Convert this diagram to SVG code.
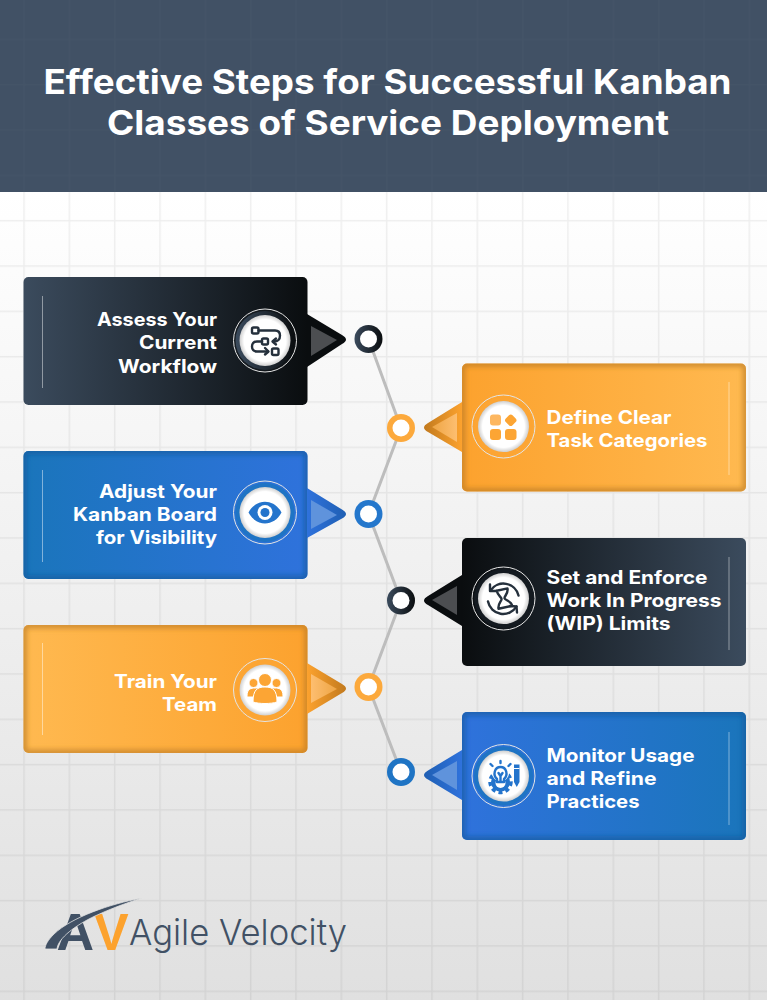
<svg xmlns="http://www.w3.org/2000/svg" width="767" height="1000" viewBox="0 0 767 1000">
<style>
.t{font-family:"Inter","Open Sans","Liberation Sans",sans-serif;font-weight:700;fill:#fff}
.title{font-size:34px}
.lab{font-size:18.5px}
.end{text-anchor:end}
.sep{fill:none;stroke-width:1;stroke:#fff;stroke-opacity:.45}
.edge{fill:none;stroke-width:7;filter:url(#blur)}
.halo{fill:none;stroke:#e4e4e4;stroke-width:1}
.disc{fill:url(#disc)}
.dot{fill:#fff}
.i-s{fill:none;stroke-width:2.4;stroke-linecap:round;stroke-linejoin:round}
.dk{stroke:#25303c}
.bl{stroke:#2474cc}.blf{fill:#2474cc}
.or{fill:#fca534}
</style>
<defs>
<linearGradient id="bg" x1="0" y1="0" x2="0" y2="1"><stop offset="0" stop-color="#fff"/><stop offset="1" stop-color="#e0e0e0"/></linearGradient>
<linearGradient id="dkL"><stop offset="0" stop-color="#3b4b5d"/><stop offset="1" stop-color="#0a0d0f"/></linearGradient>
<linearGradient id="dkR"><stop offset="0" stop-color="#0a0d0f"/><stop offset="1" stop-color="#3b4b5d"/></linearGradient>
<linearGradient id="blL"><stop offset="0" stop-color="#1a75bb"/><stop offset="1" stop-color="#2f72dc"/></linearGradient>
<linearGradient id="blR"><stop offset="0" stop-color="#2f72dc"/><stop offset="1" stop-color="#1a75bb"/></linearGradient>
<linearGradient id="orL"><stop offset="0" stop-color="#ffb950"/><stop offset="1" stop-color="#fca22e"/></linearGradient>
<linearGradient id="orR"><stop offset="0" stop-color="#fca22e"/><stop offset="1" stop-color="#ffb950"/></linearGradient>
<linearGradient id="tOrL"><stop offset="0" stop-color="#fca22e"/><stop offset="1" stop-color="#c27a1e"/></linearGradient>
<linearGradient id="tOrR"><stop offset="0" stop-color="#c27a1e"/><stop offset="1" stop-color="#fca22e"/></linearGradient>
<linearGradient id="tBlL"><stop offset="0" stop-color="#2f72dc"/><stop offset="1" stop-color="#1f5fb3"/></linearGradient>
<linearGradient id="tBlR"><stop offset="0" stop-color="#1f5fb3"/><stop offset="1" stop-color="#2f72dc"/></linearGradient>
<linearGradient id="iOrL"><stop offset="0" stop-color="#fdbe70"/><stop offset="1" stop-color="#eea544"/></linearGradient>
<linearGradient id="iOrR"><stop offset="0" stop-color="#eea544"/><stop offset="1" stop-color="#fdbe70"/></linearGradient>
<radialGradient id="disc"><stop offset="0" stop-color="#fff"/><stop offset=".82" stop-color="#fff"/><stop offset="1" stop-color="#cfcfcf"/></radialGradient>
<filter id="blur" x="-5%" y="-10%" width="110%" height="120%"><feGaussianBlur stdDeviation="2.5"/></filter>
<pattern id="grid" patternUnits="userSpaceOnUse" x="23.25" y="265.25" width="45.33" height="45.33"><path d="M.75 0V45.33M0 .75H45.33" fill="none" stroke="#000" stroke-opacity=".06" stroke-width="1.5"/></pattern>
<pattern id="gridH" patternUnits="userSpaceOnUse" x="23.25" y="265.25" width="45.33" height="45.33"><path d="M.75 0V45.33M0 .75H45.33" fill="none" stroke="#fff" stroke-opacity=".015" stroke-width="1.5"/></pattern>
<clipPath id="c2"><rect x="23.5" y="451" width="284" height="128" rx="5"/></clipPath>
<clipPath id="c3"><rect x="462" y="363.5" width="284" height="128" rx="5"/></clipPath>
<clipPath id="c5"><rect x="23.5" y="625" width="284" height="128" rx="5"/></clipPath>
<clipPath id="c6"><rect x="462" y="712" width="284" height="128" rx="5"/></clipPath>
</defs>

<rect id="background" y="192" width="767" height="808" fill="url(#bg)"/>
<rect y="192" width="767" height="808" fill="url(#grid)"/>
<g id="header">
<rect width="767" height="192" fill="#415165"/>
<rect width="767" height="192" fill="url(#gridH)"/>
<text class="t title" x="387.5" y="94" textLength="688" lengthAdjust="spacingAndGlyphs" text-anchor="middle">Effective Steps for Successful Kanban</text>
<text class="t title" x="388" y="135" textLength="562" lengthAdjust="spacingAndGlyphs" text-anchor="middle">Classes of Service Deployment</text>
</g>

<g id="connectors" fill="none" stroke="#bdbdbd" stroke-width="3">
<path d="M368.5 339L401 428L368.5 514L401 600.5L368.5 687L401 772"/>
</g>

<g id="step-assess">
<rect x="23.5" y="277" width="284" height="128" rx="5" fill="url(#dkL)"/>
<path d="M307 314L342 335Q350 339.5 342 344L307 367Z" fill="#0a0d0f"/>
<path d="M311 326L337 340L311 356Z" fill="#4c4e51"/>
<line class="sep" x1="42.5" y1="296" x2="42.5" y2="388"/>
<circle class="halo" cx="265" cy="340.5" r="31.5"/><circle cx="265" cy="340.5" r="29.5" fill="url(#dkL)"/><circle class="disc" cx="265" cy="340.5" r="25.5"/>
<g transform="translate(265 340.5)" class="i-s dk">
<rect x="-13" y="-13" width="6.5" height="6" rx="1.5"/><path d="M-6.5 -10H10Q15 -10 15 -5Q15 1 9 1"/><path d="M11 -2L7.5 1L11 4"/>
<rect x="-3" y="-2" width="6" height="6" rx="1.5"/><path d="M-3 1H-8Q-13 1 -13 6Q-13 11 -8 11H3"/><path d="M0 7.5L3.5 11L0 14"/>
<rect x="7" y="8" width="6.5" height="6.5" rx="1.5"/>
</g>
<text class="t lab end" x="217" y="326" textLength="120" lengthAdjust="spacingAndGlyphs">Assess Your</text>
<text class="t lab end" x="217" y="349" textLength="78" lengthAdjust="spacingAndGlyphs">Current</text>
<text class="t lab end" x="217" y="372.5" textLength="99" lengthAdjust="spacingAndGlyphs">Workflow</text>
<circle cx="368.5" cy="339" r="14" fill="url(#dkL)"/><circle class="dot" cx="368.5" cy="339" r="8.5"/>
</g>

<g id="step-define">
<rect x="462" y="363.5" width="284" height="128" rx="5" fill="url(#orR)"/>
<g clip-path="url(#c3)"><rect class="edge" x="462" y="363.5" width="284" height="128" rx="5" stroke="#b87a26" stroke-opacity=".65"/></g>
<path d="M462 402L428 423Q420 427.5 428 432L462 452Z" fill="url(#tOrR)"/>
<path d="M457 413L432 427L457 442Z" fill="url(#iOrR)"/>
<line class="sep" x1="729" y1="382" x2="729" y2="475"/>
<circle class="halo" cx="503.5" cy="426.5" r="31.5"/><circle cx="503.5" cy="426.5" r="29.5" fill="#fca534"/><circle class="disc" cx="503.5" cy="426.5" r="25.5"/>
<g class="or" transform="translate(503.5 426.5)">
<rect x="-13.5" y="-12" width="11" height="11" rx="3" fill="#fdb760"/>
<rect x="-13.5" y="2.5" width="11" height="11" rx="3"/>
<rect x="1.5" y="2.5" width="11.5" height="11" rx="3"/>
<rect x="2.5" y="-11" width="9.5" height="9.5" rx="2.5" transform="rotate(45 7.25 -6.25)"/>
</g>
<text class="t lab" x="546.5" y="423.5" textLength="125" lengthAdjust="spacingAndGlyphs">Define Clear</text>
<text class="t lab" x="546.5" y="446.5" textLength="161" lengthAdjust="spacingAndGlyphs">Task Categories</text>
<circle cx="401" cy="428" r="14" fill="#fca93c"/><circle class="dot" cx="401" cy="428" r="8.5"/>
</g>

<g id="step-adjust">
<rect x="23.5" y="451" width="284" height="128" rx="5" fill="url(#blL)"/>
<g clip-path="url(#c2)"><rect class="edge" x="23.5" y="451" width="284" height="128" rx="5" stroke="#125a9c" stroke-opacity=".7"/></g>
<path d="M307 488L342 509.5Q350 514 342 518.5L307 538Z" fill="url(#tBlL)"/>
<path d="M311 500L337 515L311 529Z" fill="#5f93dc"/>
<line class="sep" x1="42.5" y1="470" x2="42.5" y2="562"/>
<circle class="halo" cx="265" cy="512.5" r="31.5"/><circle cx="265" cy="512.5" r="29.5" fill="#1f74c4"/><circle class="disc" cx="265" cy="512.5" r="25.5"/>
<g transform="translate(265 512.5)">
<path class="blf" d="M-16.5 0C-9 -14.5 9 -14.5 16.5 0C9 14.5 -9 14.5 -16.5 0Z"/>
<circle cx="0" cy="0" r="7.5" fill="#fff"/><circle class="blf" cx="0" cy="0" r="4.5"/>
</g>
<text class="t lab end" x="217" y="498" textLength="118" lengthAdjust="spacingAndGlyphs">Adjust Your</text>
<text class="t lab end" x="217" y="521" textLength="144" lengthAdjust="spacingAndGlyphs">Kanban Board</text>
<text class="t lab end" x="217" y="544" textLength="121" lengthAdjust="spacingAndGlyphs">for Visibility</text>
<circle cx="368.5" cy="514" r="14" fill="#2477cc"/><circle class="dot" cx="368.5" cy="514" r="8.5"/>
</g>

<g id="step-limits">
<rect x="462" y="538" width="284" height="128" rx="5" fill="url(#dkR)"/>
<path d="M462 575L428 596Q420 600.5 428 605L462 626Z" fill="#0a0d0f"/>
<path d="M457 586L432 600L457 615Z" fill="#4c4e51"/>
<line class="sep" x1="729" y1="557" x2="729" y2="650"/>
<circle class="halo" cx="503.5" cy="598.5" r="31.5"/><circle cx="503.5" cy="598.5" r="29.5" fill="#141a20"/><circle class="disc" cx="503.5" cy="598.5" r="25.5"/>
<g transform="translate(503.5 598.5)" class="i-s dk">
<path d="M-13 -8A15.5 15.5 0 0 1 15 -3"/><path d="M-13.5 -14L-13.5 -7.5L-7 -7.5"/>
<path d="M13 8A15.5 15.5 0 0 1 -15.5 3"/><path d="M6.5 7.5L13 8L13.5 14"/>
<path d="M-5 -9H6C6 -4 1 -2 1 0C1 2 7 4 7 9H-7C-7 4 -2 2 -2 0C-2 -2 -5 -4 -5 -9Z" transform="rotate(-12)"/>
</g>
<text class="t lab" x="546.5" y="583.5" textLength="161" lengthAdjust="spacingAndGlyphs">Set and Enforce</text>
<text class="t lab" x="546.5" y="607" textLength="175" lengthAdjust="spacingAndGlyphs">Work In Progress</text>
<text class="t lab" x="546.5" y="630" textLength="124" lengthAdjust="spacingAndGlyphs">(WIP) Limits</text>
<circle cx="401" cy="600.5" r="14" fill="url(#dkL)"/><circle class="dot" cx="401" cy="600.5" r="8.5"/>
</g>

<g id="step-train">
<rect x="23.5" y="625" width="284" height="128" rx="5" fill="url(#orL)"/>
<g clip-path="url(#c5)"><rect class="edge" x="23.5" y="625" width="284" height="128" rx="5" stroke="#b87a26" stroke-opacity=".65"/></g>
<path d="M307 663L342 684Q350 688.5 342 693L307 714Z" fill="url(#tOrL)"/>
<path d="M311 674L337 689L311 703Z" fill="url(#iOrL)"/>
<line class="sep" x1="42.5" y1="643" x2="42.5" y2="735"/>
<circle class="halo" cx="265" cy="690" r="31.5"/><circle cx="265" cy="690" r="29.5" fill="#fca534"/><circle class="disc" cx="265" cy="690" r="25.5"/>
<g class="or" transform="translate(265 690)" stroke="#fff" stroke-width="1">
<circle cx="-11.5" cy="-7" r="4.5"/><circle cx="11.5" cy="-7" r="4.5"/>
<path d="M-18 6C-18 -1 -14 -2 -10 -2H10C14 -2 18 -1 18 6V7H-18Z"/>
<circle cx="0" cy="-10" r="6.5"/>
<path d="M-12 12C-12 0 -8 -3 0 -3C8 -3 12 0 12 12C6 14 -6 14 -12 12Z"/>
</g>
<text class="t lab end" x="217" y="687.5" textLength="103" lengthAdjust="spacingAndGlyphs">Train Your</text>
<text class="t lab end" x="217" y="711" textLength="55" lengthAdjust="spacingAndGlyphs">Team</text>
<circle cx="368.5" cy="687" r="14" fill="#fca93c"/><circle class="dot" cx="368.5" cy="687" r="8.5"/>
</g>

<g id="step-monitor">
<rect x="462" y="712" width="284" height="128" rx="5" fill="url(#blR)"/>
<g clip-path="url(#c6)"><rect class="edge" x="462" y="712" width="284" height="128" rx="5" stroke="#125a9c" stroke-opacity=".7"/></g>
<path d="M462 750L428 770.5Q420 775 428 779.5L462 800Z" fill="url(#tBlR)"/>
<path d="M457 761L432 775L457 790Z" fill="#5f93dc"/>
<line class="sep" x1="729" y1="732" x2="729" y2="825"/>
<circle class="halo" cx="503.5" cy="776" r="31.5"/><circle cx="503.5" cy="776" r="29.5" fill="#1f74c4"/><circle class="disc" cx="503.5" cy="776" r="25.5"/>
<g transform="translate(503.5 776)">
<circle class="blf" cx="-3" cy="6" r="9.5"/>
<circle class="bl" cx="-3" cy="6" r="10.5" fill="none" stroke-width="3.5" stroke-dasharray="4 3.2"/>
<circle cx="-3" cy="7" r="5" fill="#fff"/>
<circle cx="-3" cy="-3" r="8.5" fill="#fff"/>
<path class="i-s bl" d="M-6.5 3C-11 -1 -9 -9 -3 -9C3 -9 5 -1 0.5 3V6H-6.5Z" stroke-width="1.8" fill="#fff"/>
<path class="i-s bl" stroke-width="1.5" d="M-3 -13V-15M-11 -10L-13 -12M5 -10L7 -12M-5 -3L-3 0L-1 -3M-3 0V5"/>
<path class="blf" d="M10.5 -11.5H16V6L13.25 11L10.5 6Z"/>
<path d="M10.5 -7.5H16" stroke="#fff" stroke-width="1"/>
</g>
<text class="t lab" x="546.5" y="761.5" textLength="148" lengthAdjust="spacingAndGlyphs">Monitor Usage</text>
<text class="t lab" x="546.5" y="784.5" textLength="110" lengthAdjust="spacingAndGlyphs">and Refine</text>
<text class="t lab" x="546.5" y="807.5" textLength="93" lengthAdjust="spacingAndGlyphs">Practices</text>
<circle cx="401" cy="772" r="14" fill="#1f74c4"/><circle class="dot" cx="401" cy="772" r="8.5"/>
</g>

<g id="logo">
<text x="56.5" y="949.5" font-family="'Liberation Sans',sans-serif" font-weight="700" font-size="52" fill="#415165" style="font-kerning:none">A<tspan fill="#fca22e">V</tspan></text>
<path d="M142 898C110 904 72 917 54 934C48 940 45 945 45 949H57C58 938 76 925 95 916C110 909 126 903 142 898Z" fill="#415165" stroke="#e3e3e3" stroke-width=".8"/>
<text x="129" y="945" font-family="'Inter','Open Sans',sans-serif" font-weight="300" font-size="36" fill="#415165" textLength="218" lengthAdjust="spacingAndGlyphs">Agile Velocity</text>
</g>
</svg>
